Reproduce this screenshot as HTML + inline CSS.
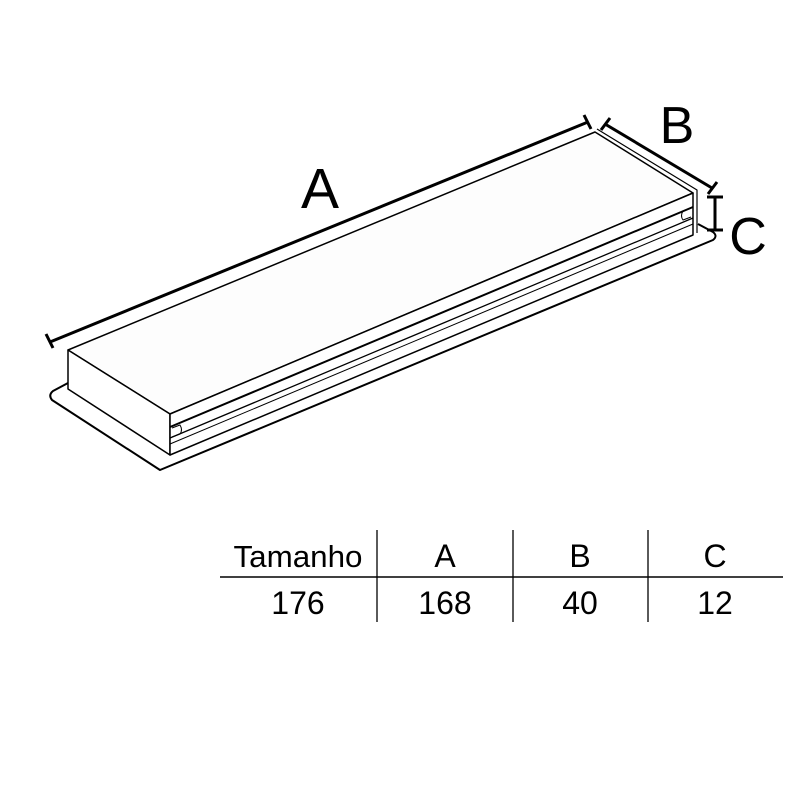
<!DOCTYPE html>
<html><head><style>body{margin:0;background:#fff}svg{display:block}</style></head><body>
<svg width="800" height="800" viewBox="0 0 800 800" xmlns="http://www.w3.org/2000/svg">
<g fill="none" stroke="#000" stroke-linejoin="round">
<path d="M68,383 L53,391 Q48,395 52,400 L160,470 L713,240 Q718,236 713,232 L698,224" stroke-width="2" fill="#fff"/>
<path d="M68,350 L595,132 L693,193 L170,414 Z" fill="#fdfdfd" stroke-width="1.5"/>
<path d="M68,350 L170,414 L170,455 L68,389 Z" fill="#fff" stroke-width="1.5"/>
<path d="M170,414 L693,193 L693,235 L170,455 Z" fill="#fff" stroke-width="1.5"/>
<line x1="170" y1="427" x2="693" y2="207" stroke-width="2"/>
<line x1="170" y1="438" x2="693" y2="218" stroke-width="1.3"/>
<line x1="170" y1="444" x2="693" y2="224" stroke-width="1"/>
<path d="M172,428 L180,425 Q183,430 180,434 L172,437" stroke-width="1"/>
<path d="M691,208 L683,211 Q680,216 683,220 L691,217" stroke-width="1"/>
<path d="M597,129 L697,190 L697,233" stroke-width="1.2"/>
<line x1="50" y1="342" x2="588" y2="122" stroke-width="3"/>
<line x1="46" y1="334" x2="53" y2="348" stroke-width="3"/>
<line x1="584" y1="115" x2="591" y2="129" stroke-width="3"/>
<line x1="605" y1="124" x2="712" y2="188" stroke-width="3"/>
<line x1="601" y1="130" x2="610" y2="118" stroke-width="3"/>
<line x1="708" y1="194" x2="717" y2="182" stroke-width="3"/>
<line x1="715" y1="197" x2="715" y2="230" stroke-width="3"/>
<line x1="707" y1="197" x2="723" y2="197" stroke-width="3"/>
<line x1="707" y1="230" x2="723" y2="230" stroke-width="3"/>
<line x1="220" y1="577" x2="783" y2="577" stroke-width="1.5"/>
<line x1="377" y1="530" x2="377" y2="622" stroke-width="1.3"/>
<line x1="513" y1="530" x2="513" y2="622" stroke-width="1.3"/>
<line x1="648" y1="530" x2="648" y2="622" stroke-width="1.3"/>
</g>
<g font-family="Liberation Sans, sans-serif" fill="#000" text-anchor="middle">
<text x="320" y="208" font-size="57">A</text>
<text x="677" y="143" font-size="52">B</text>
<text x="748" y="254" font-size="52">C</text>
<text x="298" y="567" font-size="31" textLength="129" lengthAdjust="spacingAndGlyphs">Tamanho</text>
<text x="445" y="567" font-size="32">A</text>
<text x="580" y="567" font-size="32">B</text>
<text x="715" y="567" font-size="32">C</text>
<text x="298" y="614" font-size="32">176</text>
<text x="445" y="614" font-size="32">168</text>
<text x="580" y="614" font-size="32">40</text>
<text x="715" y="614" font-size="32">12</text>
</g>
</svg>
</body></html>
